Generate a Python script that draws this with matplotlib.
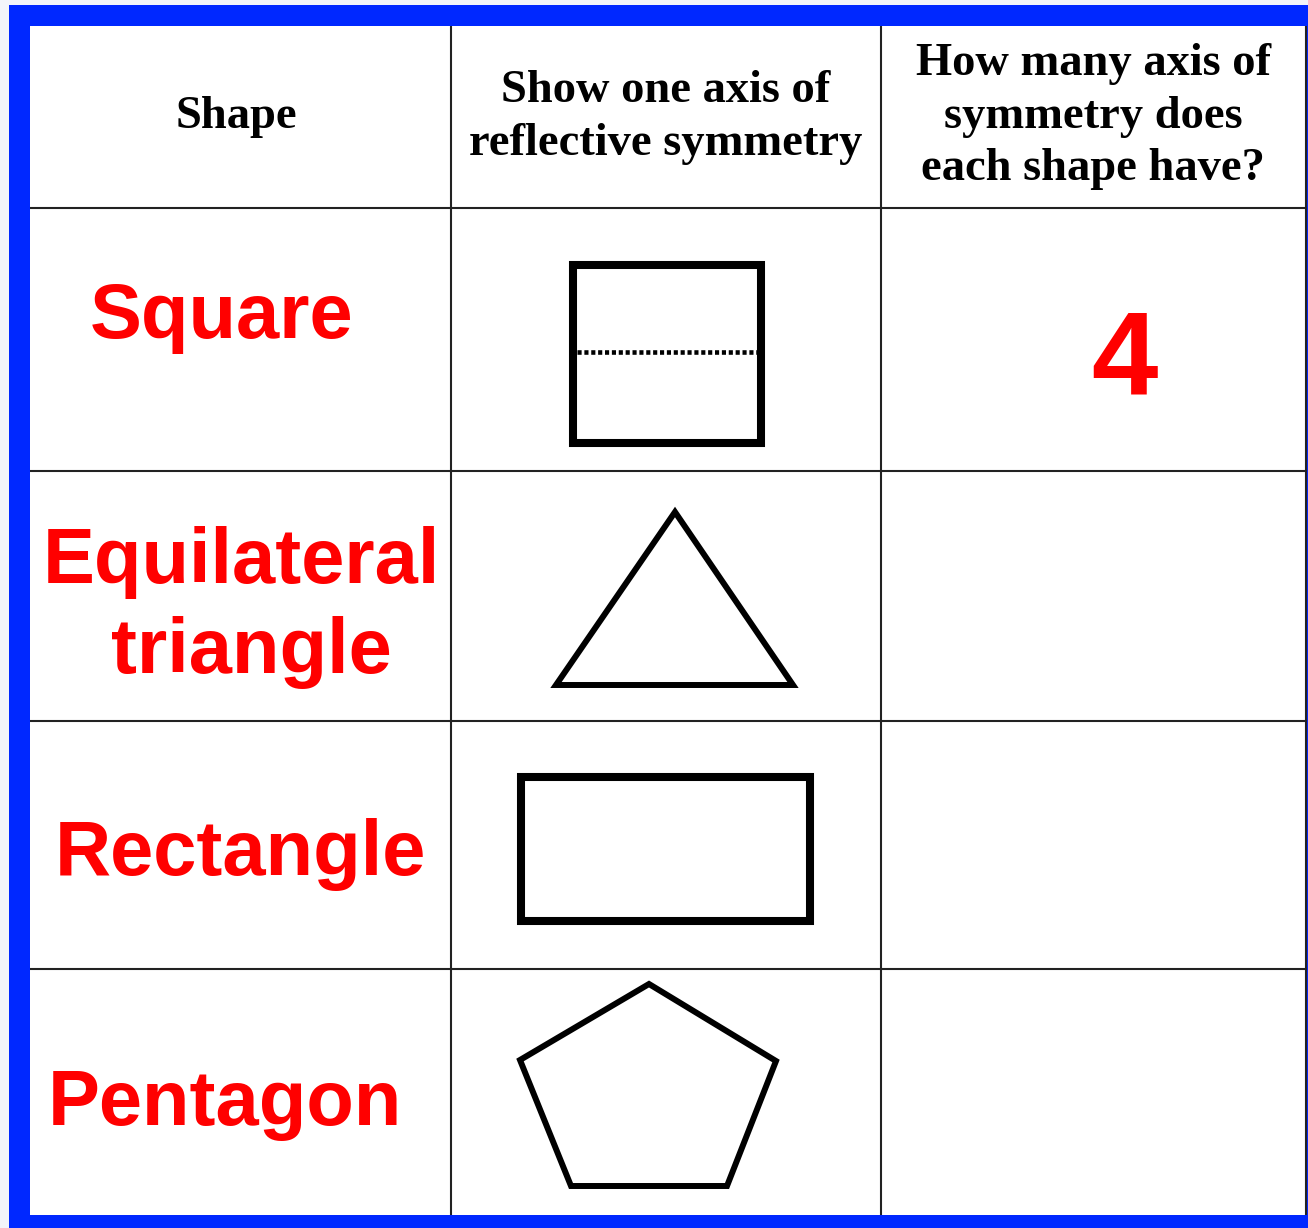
import matplotlib
matplotlib.use('agg')
import matplotlib.pyplot as plt
from matplotlib.patches import Rectangle, Polygon

# table content
headers = [
    ['Shape'],
    ['Show one axis of', 'reflective symmetry'],
    ['How many axis of', 'symmetry does', 'each shape have?'],
]
shape_names = [['Square'], ['Equilateral', 'triangle'], ['Rectangle'], ['Pentagon']]
answers = ['4', '', '', '']

# outlines drawn in the middle column (pixel space of the sheet)
square_pts = [(573, 265), (761, 265), (761, 443), (573, 443)]
square_axis = [(577, 352), (757, 352)]
triangle_pts = [(675, 512), (793, 685), (556, 685)]
rectangle_pts = [(521, 777), (810, 777), (810, 921), (521, 921)]
pentagon_pts = [(649, 984), (776, 1061), (727, 1186), (571, 1186), (520, 1060)]

# layout
W, H = 1308, 1228
col_edges = [30, 451, 881, 1306]
row_edges = [26, 208, 471, 721, 969, 1215]
BLUE = '#0028ff'
RED = '#ff0000'

fig = plt.figure(figsize=(W / 100, H / 100), dpi=100, facecolor='#f3f5fa')
ax = fig.add_axes([0, 0, 1, 1])
ax.set_xlim(0, W)
ax.set_ylim(H, 0)
ax.axis('off')

# blue frame + white sheet
ax.add_patch(Rectangle((9, 5), W + 40, H + 40, facecolor=BLUE, edgecolor='none'))
ax.add_patch(Rectangle((col_edges[0], row_edges[0]), col_edges[-1] - col_edges[0],
                       row_edges[-1] - row_edges[0], facecolor='white', edgecolor='none'))

# grid
for x in col_edges[1:]:
    ax.plot([x, x], [row_edges[0], row_edges[-1]], color='#222222', lw=1.5, solid_capstyle='butt')
for y in row_edges[1:-1]:
    ax.plot([col_edges[0], col_edges[-1]], [y, y], color='#222222', lw=1.5, solid_capstyle='butt')

# header text (bold serif)
hdr_font = dict(family='Liberation Serif', weight='bold', fontsize=33.5, color='black')
hdr_baselines = [[128], [102, 155], [75, 128, 180]]
hdr_cx = [236, 666, 1093]
for lines, bases, cx in zip(headers, hdr_baselines, hdr_cx):
    for line, b in zip(lines, bases):
        ax.text(cx, b, line, ha='center', va='baseline', **hdr_font)

# shape names in red
name_font = dict(family='Liberation Sans', weight='bold', fontsize=56, color=RED)
name_baselines = [[338], [583, 673], [875], [1125]]
name_cx = [[222], [241, 251], [240], [225]]
for lines, bases, cxs in zip(shape_names, name_baselines, name_cx):
    for line, b, cx in zip(lines, bases, cxs):
        ax.text(cx, b, line, ha='center', va='baseline', **name_font)

# answers
ans_baselines = [395, 640, 890, 1140]
for a, b in zip(answers, ans_baselines):
    if a:
        ax.text(1124, b, a, ha='center', va='baseline', family='Liberation Sans',
                weight='bold', fontsize=86, color=RED)

# shapes
ax.add_patch(Polygon(square_pts, closed=True, fill=False, edgecolor='black', lw=5.8, joinstyle='miter'))
xs, ys = zip(*square_axis)
ax.plot(xs, ys, color='black', lw=3.3, linestyle=(0, (0.9, 0.6)), dash_capstyle='butt')
ax.add_patch(Polygon(triangle_pts, closed=True, fill=False, edgecolor='black', lw=4.3, joinstyle='miter'))
ax.add_patch(Polygon(rectangle_pts, closed=True, fill=False, edgecolor='black', lw=5.8, joinstyle='miter'))
ax.add_patch(Polygon(pentagon_pts, closed=True, fill=False, edgecolor='black', lw=4.3, joinstyle='miter'))

fig.savefig('out.png', dpi=100, facecolor=fig.get_facecolor())
